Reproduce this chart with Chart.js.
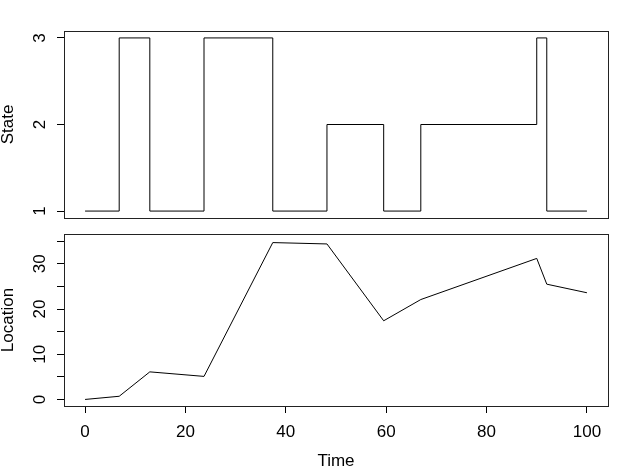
<!DOCTYPE html>
<html>
<head>
<meta charset="utf-8">
<script src="https://cdn.jsdelivr.net/npm/chart.js@4/dist/chart.umd.min.js"></script>
<style>
  html, body { margin: 0; padding: 0; background: #fff; }
  #wrap { position: relative; width: 623px; height: 471px; }
  canvas { position: absolute; left: 0; }
  #state-chart { top: 0; }
  #loc-chart { top: 226px; }
</style>
</head>
<body>
<div id="wrap">
  <canvas id="state-chart" width="623" height="226"></canvas>
  <canvas id="loc-chart" width="623" height="245"></canvas>
</div>
<script>
// values
const times     = [0, 6.8, 12.9, 23.7, 37.4, 48.2, 59.5, 66.9, 90.0, 92.0, 100]
const states    = [1, 3, 1, 3, 1, 2, 1, 2, 3, 1, 1]
const locations = [0, 0.7, 6.1, 5.1, 34.7, 34.4, 17.4, 22.1, 31.2, 25.5, 23.6]

const timeTicks     = [0, 20, 40, 60, 80, 100]
const stateTicks    = [1, 2, 3]
const locationTicks = [0, 5, 10, 15, 20, 25, 30, 35]
const locationLabelled = [0, 10, 20, 30]

const FONT = { family: "'Liberation Sans', Arial, sans-serif", size: 17, lineHeight: 1 }
Chart.defaults.font = FONT
Chart.defaults.color = '#000'

// R-style box around the plotting region
const boxPlugin = {
  id: 'box',
  afterDraw(chart) {
    const { ctx, chartArea: a } = chart
    ctx.save()
    ctx.strokeStyle = '#222'
    ctx.lineWidth = 1
    ctx.strokeRect(a.left + 0.5, a.top + 0.5, a.right - a.left, a.bottom - a.top)
    ctx.restore()
  },
}

const setTicks = vals => scale => { scale.ticks = vals.map(v => ({ value: v })) }

const tickGrid = { display: true, drawOnChartArea: false, drawTicks: true, tickLength: 7, color: '#000', lineWidth: 1 }

function yAxis(title, tickVals, min, max, pad, labelFn) {
  return {
    type: 'linear',
    min, max,
    afterBuildTicks: setTicks(tickVals),
    afterFit: s => { s.width = 64; s.paddingTop = 0; s.paddingBottom = 0 },
    border: { display: false },
    grid: tickGrid,
    ticks: {
      minRotation: 90, maxRotation: 90,
      crossAlign: 'center',
      padding: pad,
      font: FONT,
      color: '#000',
      callback: labelFn || (v => String(v)),
    },
    title: { display: true, text: title, font: FONT, color: '#000', padding: { top: 0, bottom: 0 } },
  }
}

new Chart(document.getElementById('state-chart'), {
  type: 'line',
  data: {
    datasets: [{
      data: times.map((t, i) => ({ x: t, y: states[i] })),
      borderColor: '#000',
      borderWidth: 1,
      pointRadius: 0,
      stepped: 'before',
      fill: false,
    }],
  },
  options: {
    responsive: false,
    animation: false,
    layout: { padding: { top: 31, right: 15, bottom: 8, left: 0 } },
    plugins: { legend: { display: false }, tooltip: { enabled: false } },
    scales: {
      x: { type: 'linear', min: -4.2, max: 104.2, display: false },
      y: yAxis('State', stateTicks, 0.92, 3.08, 12),
    },
  },
  plugins: [boxPlugin],
})

new Chart(document.getElementById('loc-chart'), {
  type: 'line',
  data: {
    datasets: [{
      data: times.map((t, i) => ({ x: t, y: locations[i] })),
      borderColor: '#000',
      borderWidth: 1,
      pointRadius: 0,
      tension: 0,
      fill: false,
    }],
  },
  options: {
    responsive: false,
    animation: false,
    layout: { padding: { top: 8, right: 15, bottom: 0, left: 0 } },
    plugins: { legend: { display: false }, tooltip: { enabled: false } },
    scales: {
      x: {
        type: 'linear',
        min: -4.2, max: 104.2,
        afterBuildTicks: setTicks(timeTicks),
        afterFit: s => { s.height = 65; s.paddingLeft = 0; s.paddingRight = 0 },
        border: { display: false },
        grid: tickGrid,
        ticks: { padding: 11, font: FONT, color: '#000', maxRotation: 0, minRotation: 0 },
        title: { display: true, text: 'Time', font: FONT, color: '#000', padding: { top: 0, bottom: 1.5 } },
      },
      y: yAxis('Location', locationTicks, -1.45, 36.6, 7,
        v => locationLabelled.includes(v) ? String(v) : ''),
    },
  },
  plugins: [boxPlugin],
})
</script>
</body>
</html>
